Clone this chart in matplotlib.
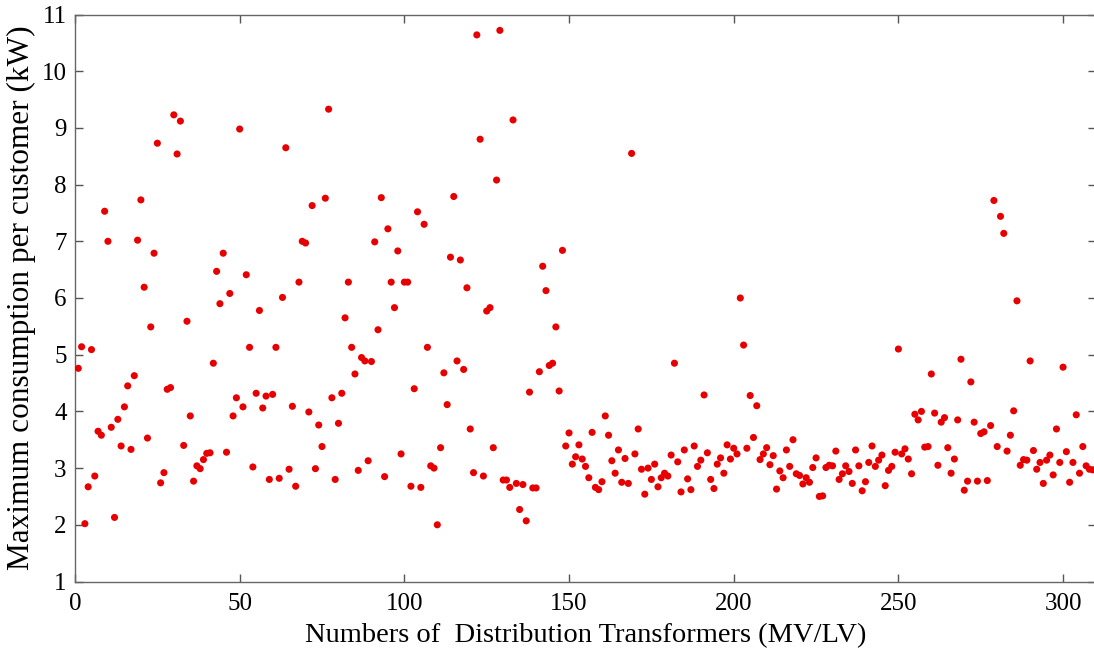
import matplotlib
matplotlib.use("Agg")
import matplotlib.pyplot as plt
import numpy as np

# Maximum consumption per customer (kW) for each distribution transformer, index 1..309
consumption = [
    4.76, 5.14, 2.02, 2.67, 5.09, 2.86, 3.65, 3.58, 7.53, 7.00,
    3.72, 2.13, 3.86, 3.39, 4.08, 4.45, 3.33, 4.63, 7.02, 7.73,
    6.19, 3.53, 5.49, 6.79, 8.73, 2.74, 2.92, 4.39, 4.42, 9.23,
    8.54, 9.12, 3.40, 5.59, 3.92, 2.77, 3.04, 2.99, 3.15, 3.26,
    3.27, 4.85, 6.47, 5.90, 6.79, 3.28, 6.08, 3.92, 4.24, 8.98,
    4.08, 6.41, 5.13, 3.02, 4.32, 5.78, 4.06, 4.27, 2.80, 4.30,
    5.13, 2.82, 6.01, 8.65, 2.98, 4.09, 2.68, 6.28, 7.00, 6.97,
    3.99, 7.63, 2.99, 3.76, 3.38, 7.76, 9.33, 4.24, 2.80, 3.79,
    4.32, 5.65, 6.28, 5.13, 4.66, 2.96, 4.95, 4.89, 3.13, 4.88,
    6.99, 5.44, 7.77, 2.85, 7.22, 6.28, 5.83, 6.83, 3.25, 6.28,
    6.28, 2.68, 4.40, 7.52, 2.66, 7.30, 5.13, 3.04, 3.00, 2.00,
    3.36, 4.68, 4.12, 6.72, 7.79, 4.89, 6.67, 4.74, 6.18, 3.69,
    2.92, 10.64, 8.80, 2.86, 5.77, 5.83, 3.36, 8.08, 10.72, 2.79,
    2.79, 2.66, 9.14, 2.73, 2.27, 2.71, 2.07, 4.34, 2.65, 2.65,
    4.70, 6.56, 6.13, 4.81, 4.85, 5.49, 4.36, 6.84, 3.39, 3.62,
    3.07, 3.20, 3.41, 3.16, 3.03, 2.83, 3.63, 2.66, 2.62, 2.76,
    3.92, 3.58, 3.13, 2.91, 3.32, 2.75, 3.17, 2.73, 8.55, 3.25,
    3.69, 2.98, 2.54, 3.00, 2.80, 3.07, 2.67, 2.83, 2.91, 2.86,
    3.23, 4.85, 3.11, 2.58, 3.32, 2.81, 2.62, 3.39, 3.03, 3.14,
    4.29, 3.27, 2.80, 2.64, 3.07, 3.18, 2.91, 3.41, 3.16, 3.35,
    3.25, 6.00, 5.17, 3.35, 4.28, 3.54, 4.10, 3.15, 3.25, 3.36,
    3.06, 3.22, 2.63, 2.95, 2.83, 3.32, 3.03, 3.50, 2.90, 2.87,
    2.72, 2.83, 2.75, 3.01, 3.18, 2.50, 2.51, 3.01, 3.05, 3.04,
    3.30, 2.80, 2.90, 3.04, 2.94, 2.73, 3.32, 3.04, 2.60, 2.76,
    3.10, 3.39, 3.03, 3.14, 3.23, 2.69, 2.96, 3.03, 3.28, 5.10,
    3.25, 3.34, 3.16, 2.90, 3.95, 3.85, 4.00, 3.37, 3.38, 4.66,
    3.97, 3.05, 3.81, 3.89, 3.36, 2.91, 3.16, 3.85, 4.92, 2.61,
    2.77, 4.52, 3.81, 2.77, 3.61, 3.64, 2.78, 3.75, 7.72, 3.38,
    7.44, 7.14, 3.30, 3.58, 4.01, 5.95, 3.05, 3.15, 3.14, 4.89,
    3.31, 2.98, 3.10, 2.73, 3.14, 3.23, 2.88, 3.69, 3.10, 4.78,
    3.29, 2.75, 3.10, 3.94, 2.91, 3.38, 3.04, 2.98, 2.97,
]
transformer_index = list(range(1, len(consumption) + 1))

x_ticks = [0, 50, 100, 150, 200, 250, 300]
y_ticks = [1, 2, 3, 4, 5, 6, 7, 8, 9, 10, 11]
x_label = "Numbers of  Distribution Transformers (MV/LV)"
y_label = "Maximum consumption per customer (kW)"

plt.rcParams['font.family'] = ['Liberation Serif', 'DejaVu Serif']

fig = plt.figure(figsize=(10.94, 6.60), dpi=100)
ax = fig.add_axes([75 / 1094, 1 - 581.5 / 660, (1096 - 75) / 1094, (581.5 - 14.5) / 660])

ax.scatter(transformer_index, consumption, s=26, color='#e80000', edgecolors='none', zorder=3)

ax.set_xlim(0, 310)
ax.set_ylim(1, 11)
ax.set_xticks(x_ticks)
ax.set_yticks(y_ticks)
ax.tick_params(direction='in', length=6, width=1.0, color='#555555',
               top=True, right=True, labelsize=18)
ax.tick_params(axis='x', pad=8)
ax.tick_params(axis='y', pad=6)
for sp in ax.spines.values():
    sp.set_color('#666666')
    sp.set_linewidth(1.0)

ax.set_xlabel(x_label, fontsize=20.5, labelpad=6)
ax.set_ylabel(y_label, fontsize=22.5, labelpad=4)

fig.savefig("out.png", dpi=100)
